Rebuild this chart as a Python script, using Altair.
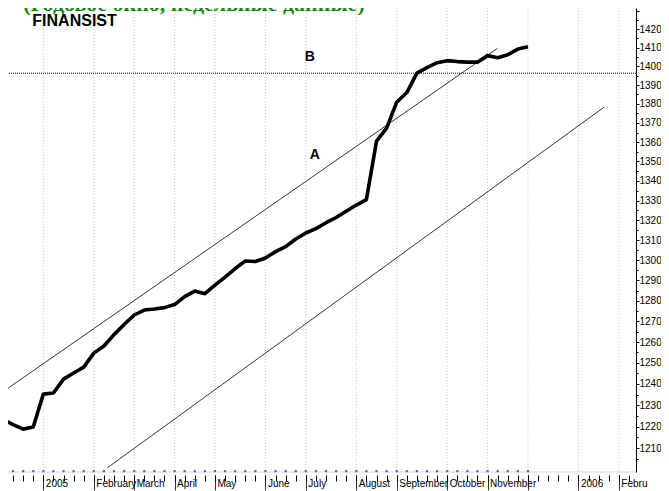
import altair as alt
import pandas as pd

# ---- data (weekly closes, log price scale) ----
weeks = list(range(-4, 49))
close = [1223.3, 1220.9, 1218.8, 1219.8, 1235.2, 1235.7, 1242.3, 1245.2, 1248.0,
         1254.7, 1258.1, 1263.6, 1268.5, 1273.1, 1275.5, 1276.0, 1276.7, 1278.2,
         1282.1, 1284.8, 1283.5, 1287.7, 1291.7, 1295.9, 1299.6, 1299.4, 1301.1,
         1304.3, 1306.8, 1310.6, 1313.6, 1315.8, 1318.8, 1321.4, 1324.6, 1327.7,
         1330.5, 1360.5, 1367.3, 1380.9, 1386.0, 1396.3, 1399.3, 1401.9, 1403.0,
         1402.5, 1402.2, 1402.2, 1405.7, 1404.6, 1406.2, 1409.2, 1410.5]

month_idx = [0, 5, 9, 13, 17, 22, 26, 31, 35, 40, 44, 48, 53, 57]
month_names = ["2005", "February", "March", "April", "May", "June", "July",
               "August", "September", "October", "November", "", "2006", "Febru"]

tick_weeks = list(range(-3, 59))
dot_weeks = list(range(-3, 49))
dot_level = 1199.4

# channel lines: start/end week and price
chan_id = ["upper", "upper", "lower", "lower"]
chan_week = [-3.47, 44.97, 6.34, 55.54]
chan_price = [1238.1, 1409.6, 1200.9, 1378.3]

b_level = 1396.3

x_domain = [-3.5, 58.7]
y_domain = [1199, 1431.5]
y_major = list(range(1210, 1431, 10))
y_minor = list(range(1205, 1430, 10))

labels_txt = ["(Годовое окно, недельные данные)", "FINANSIST", "B", "A"]
labels_week = [-2.0, -1.09, 26.4, 26.9]
labels_price = [1429.6, 1421.6, 1404.9, 1353.3]

# ---- build ----
xs = alt.Scale(domain=x_domain, nice=False, zero=False)
ys = alt.Scale(type="log", domain=y_domain, nice=False)

price_df = pd.DataFrame({"w": weeks, "p": close})
grid_df = pd.DataFrame({"w": month_idx})
dots_df = pd.DataFrame({"w": dot_weeks, "p": [dot_level] * len(dot_weeks)})
chan_df = pd.DataFrame({"id": chan_id, "w": chan_week, "p": chan_price})
b_df = pd.DataFrame({"p": [b_level]})
base_df = pd.DataFrame({"p": [y_domain[0]]})

label_expr = ""
for i, n in zip(month_idx, month_names):
    label_expr += f"datum.value == {i} ? '{n}' : "
label_expr += "''"

FONT = "Liberation Sans"

# weekly ticks (no labels) on the price layer
x_axis_weeks = alt.Axis(
    values=tick_weeks, labels=False, title=None, grid=False, domain=False,
    orient="bottom", offset=3, tickSize=6, tickColor="#000000", tickWidth=1,
)
# month ticks + labels on the grid layer
x_axis_months = alt.Axis(
    values=month_idx, labelExpr=label_expr, title=None, grid=False, domain=False,
    orient="bottom", offset=3, tickSize=15, tickColor="#333333", tickWidth=1,
    labelAlign="left", labelOffset=2, labelPadding=-12, labelBaseline="top",
    labelFontSize=10, labelFont=FONT, labelColor="#000000",
    labelOverlap=False, labelBound=False, labelFlush=False,
)
y_axis_major = alt.Axis(
    values=y_major, orient="right", title=None, grid=False, format="d",
    labelExpr="datum.value <= 1420 ? format(datum.value, 'd') : ''",
    tickSize=3, tickColor="#000000", domainColor="#000000", domainWidth=1,
    labelFontSize=10, labelFont=FONT, labelColor="#000000",
    labelPadding=0, labelOverlap=False, labelBound=False, labelFlush=False,
)
y_axis_minor = alt.Axis(
    values=y_minor, orient="right", title=None, grid=False, labels=False,
    domain=False, tickSize=2, tickColor="#000000",
)

grid = alt.Chart(grid_df).mark_rule(color="#c4c4c4", strokeWidth=1, strokeDash=[1, 2]).encode(
    x=alt.X("w:Q", scale=xs, axis=x_axis_months))

base_line = alt.Chart(base_df).mark_rule(color="#d8d8d8", strokeWidth=1).encode(
    y=alt.Y("p:Q", scale=ys, axis=None))

b_line = alt.Chart(b_df).mark_rule(color="#000000", strokeWidth=1, strokeDash=[1, 1]).encode(
    y=alt.Y("p:Q", scale=ys, axis=y_axis_minor))

chan = alt.Chart(chan_df).mark_line(color="#000000", strokeWidth=0.8, clip=True).encode(
    x=alt.X("w:Q", scale=xs, axis=None),
    y=alt.Y("p:Q", scale=ys, axis=None),
    detail="id:N")

dots = alt.Chart(dots_df).mark_square(size=5, color="#6060f0", opacity=1).encode(
    x=alt.X("w:Q", scale=xs, axis=None),
    y=alt.Y("p:Q", scale=ys, axis=None))

price = alt.Chart(price_df).mark_line(color="#000000", strokeWidth=3.6, clip=True,
                                      strokeJoin="round").encode(
    x=alt.X("w:Q", scale=xs, axis=x_axis_weeks),
    y=alt.Y("p:Q", scale=ys, axis=y_axis_major))

title_t = alt.Chart(pd.DataFrame({"t": [labels_txt[0]], "w": [labels_week[0]], "p": [labels_price[0]]})).mark_text(
    align="left", baseline="alphabetic", font="Liberation Serif", fontSize=22,
    fontWeight="bold", color="#138a13").encode(
    x=alt.X("w:Q", scale=xs, axis=None), y=alt.Y("p:Q", scale=ys, axis=None), text="t:N")

fin_t = alt.Chart(pd.DataFrame({"t": [labels_txt[1]], "w": [labels_week[1]], "p": [labels_price[1]]})).mark_text(
    align="left", baseline="alphabetic", font=FONT, fontSize=16,
    fontWeight="bold", color="#000000").encode(
    x=alt.X("w:Q", scale=xs, axis=None), y=alt.Y("p:Q", scale=ys, axis=None), text="t:N")

ab_t = alt.Chart(pd.DataFrame({"t": labels_txt[2:], "w": labels_week[2:], "p": labels_price[2:]})).mark_text(
    align="center", baseline="middle", font=FONT, fontSize=14,
    fontWeight="bold", color="#000000").encode(
    x=alt.X("w:Q", scale=xs, axis=None), y=alt.Y("p:Q", scale=ys, axis=None), text="t:N")

chart = alt.layer(grid, base_line, dots, b_line, chan, price, title_t, fin_t, ab_t).resolve_axis(
    x="independent", y="independent"
).properties(
    width=628, height=464,
    padding={"left": 0, "top": 0, "right": 25, "bottom": 22},
    autosize=alt.AutoSizeParams(type="none"),
    background="#ffffff",
).configure_view(stroke=None)

chart.save("out.html", embed_options={"renderer": "svg", "actions": False})
